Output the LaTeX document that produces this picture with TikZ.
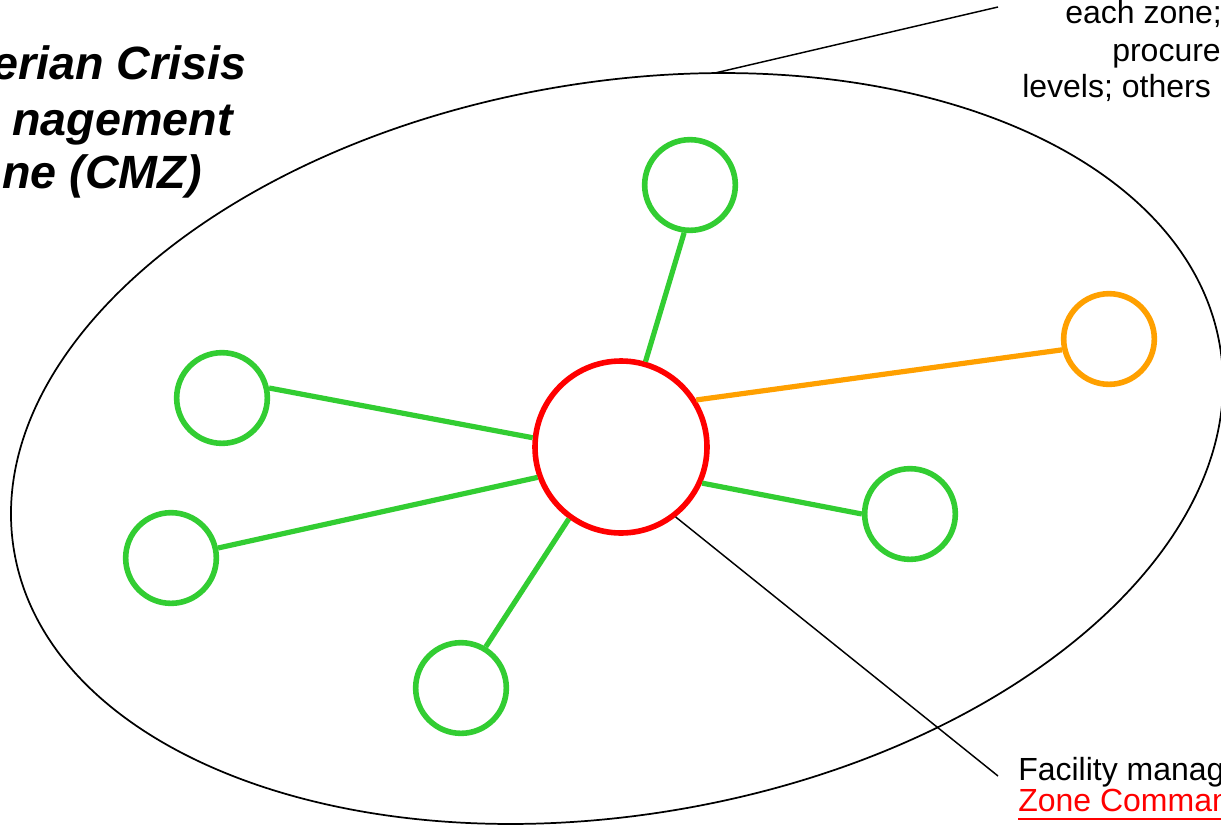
\documentclass[tikz,border=0pt]{standalone}
\usepackage{fontspec}
\setmainfont{Liberation Sans}
\usetikzlibrary{shapes.geometric,calc}
\definecolor{zgreen}{RGB}{50,205,50}
\definecolor{zorange}{RGB}{255,160,0}
\definecolor{zred}{RGB}{255,0,0}
\tikzset{
  site/.style={circle, draw=zgreen, line width=4.2pt, minimum size=68pt, inner sep=0pt},
  hub/.style={circle, draw=zred, line width=4.2pt, minimum size=129pt, inner sep=0pt},
  far/.style={circle, draw=zorange, line width=4.2pt, minimum size=68pt, inner sep=0pt},
  glink/.style={draw=zgreen, line width=3.9pt},
  olink/.style={draw=zorange, line width=3.9pt},
  callout/.style={draw=black, line width=1.1pt},
  zone/.style={draw=black, line width=1.3pt},
  titletxt/.style={inner sep=0pt, font=\fontsize{35}{42}\selectfont\bfseries\itshape},
  notetxt/.style={inner sep=0pt, font=\fontsize{24}{28}\selectfont},
}
\begin{document}
\begin{tikzpicture}[x=0.75pt,y=0.75pt]
\useasboundingbox (0,0) rectangle (1221,-825);
% zone ellipse
\draw[zone, rotate around={9.7:(617,-448.5)}] (617,-448.5) ellipse [x radius=611.6, y radius=366.2];
\coordinate (ztop) at (715,-73);
% nodes
\node[hub] (hub) at (621,-447) {};
\node[site] (n1) at (690,-185) {};
\node[far] (n2) at (1109,-339) {};
\node[site] (n3) at (222,-398) {};
\node[site] (n4) at (171,-558) {};
\node[site] (n5) at (910,-514) {};
\node[site] (n6) at (461,-688) {};
% links
\draw[glink] (hub.74) -- (n1.263);
\draw[olink] (hub.32) -- (n2.193);
\draw[glink] (hub.174) -- (n3.12);
\draw[glink] (hub.200) -- (n4.12);
\draw[glink] (hub.336) -- (n5.180);
\draw[glink] (hub.234) -- (n6.59);
% title
\node[titletxt, anchor=base east] (t1) at (247,-79) {erian Crisis};
\node[titletxt, anchor=base east] (t2) at (233,-135) {nagement};
\node[titletxt, anchor=base east] (t3) at (202,-188) {ne (CMZ)};
% top-right note
\node[notetxt, anchor=base west] (a1) at (1065,-23) {each zone;};
\node[notetxt, anchor=base west] (a2) at (1112,-61) {procure};
\node[notetxt, anchor=base west] (a3) at (1022,-97) {levels; others};
\coordinate (aend) at (998,-7);
\draw[callout] (ztop) -- (aend);
% bottom-right note
\node[notetxt, anchor=base west] (b1) at (1018,-780) {Facility manag};
\node[notetxt, anchor=base west, text=zred] (b2) at (1018,-811) {Zone Comman};
\draw[draw=zred, line width=1.6pt] ($(b2.base west)+(0,-8)$) -- ($(b2.base east)+(0,-8)$);
\coordinate (bend) at (998,-776);
\draw[callout] (hub.308) -- (bend);
\end{tikzpicture}
\end{document}
